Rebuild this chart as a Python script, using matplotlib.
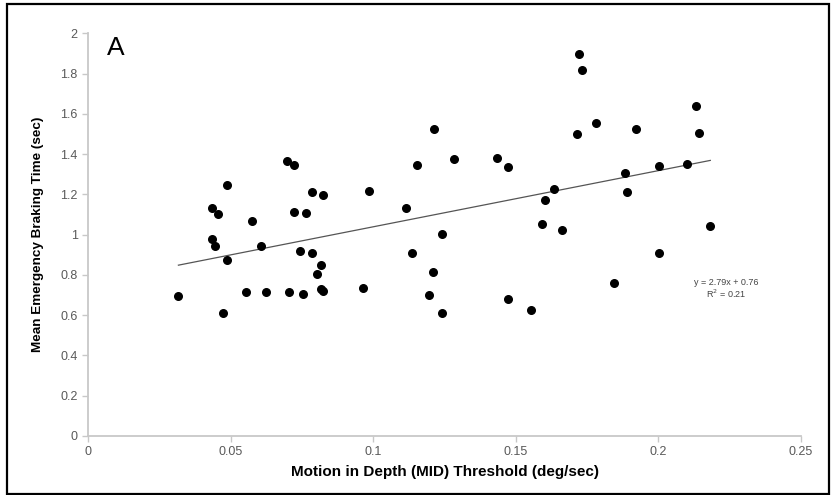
import matplotlib.pyplot as plt
from matplotlib.patches import Rectangle
import numpy as np

plt.rcParams['font.family'] = ['Liberation Sans', 'DejaVu Sans']

# MID threshold (deg/sec) and mean emergency braking time (sec) per driver
mid_threshold = [
    0.0317, 0.0445, 0.0436, 0.0486, 0.0475, 0.0607, 0.0554, 0.0623, 0.0704,
    0.0755, 0.0743, 0.0784, 0.0816, 0.0804, 0.0816, 0.0825, 0.0965, 0.1135,
    0.0697, 0.0722, 0.0486, 0.0436, 0.0455, 0.0576, 0.0784, 0.0823, 0.0723,
    0.0764, 0.0984, 0.1114, 0.1152,
    0.1723, 0.1731, 0.1214, 0.1283, 0.1433, 0.1472, 0.1713, 0.1782, 0.1923,
    0.2133, 0.2141, 0.2100, 0.2001, 0.1883, 0.1890, 0.1633, 0.1601, 0.1593,
    0.1662, 0.2182, 0.1242,
    0.1211, 0.1195, 0.1242, 0.1472, 0.1553, 0.1843, 0.2001,
]
braking_time = [
    0.695, 0.944, 0.977, 0.874, 0.613, 0.945, 0.715, 0.715, 0.715,
    0.707, 0.920, 0.907, 0.849, 0.805, 0.728, 0.722, 0.735, 0.907,
    1.366, 1.347, 1.248, 1.131, 1.103, 1.066, 1.210, 1.199, 1.112,
    1.106, 1.218, 1.131, 1.346,
    1.899, 1.818, 1.526, 1.374, 1.382, 1.334, 1.500, 1.555, 1.525,
    1.639, 1.503, 1.352, 1.341, 1.306, 1.210, 1.227, 1.172, 1.051,
    1.023, 1.041, 1.005,
    0.813, 0.699, 0.611, 0.679, 0.627, 0.762, 0.910,
]

# linear fit as reported
slope = 2.79
intercept = 0.76
r_squared = 0.21

x_ticks = [0, 0.05, 0.1, 0.15, 0.2, 0.25]
x_tick_labels = ['0', '0.05', '0.1', '0.15', '0.2', '0.25']
y_ticks = [0, 0.2, 0.4, 0.6, 0.8, 1.0, 1.2, 1.4, 1.6, 1.8, 2.0]
y_tick_labels = ['0', '0.2', '0.4', '0.6', '0.8', '1', '1.2', '1.4', '1.6', '1.8', '2']

fig = plt.figure(figsize=(8.31, 4.95), dpi=100)
ax = fig.add_axes([0.1059, 0.1192, 0.858, 0.8135])

ax.scatter(mid_threshold, braking_time, s=30, color='black', zorder=3)

fit_x = np.array([min(mid_threshold), max(mid_threshold)])
ax.plot(fit_x, slope * fit_x + intercept, color='#555555', linewidth=0.9, zorder=2)

ax.set_xlim(0, 0.25)
ax.set_ylim(0, 2)
ax.set_xticks(x_ticks)
ax.set_xticklabels(x_tick_labels)
ax.set_yticks(y_ticks)
ax.set_yticklabels(y_tick_labels)

for side in ['top', 'right']:
    ax.spines[side].set_visible(False)
for side in ['left', 'bottom']:
    ax.spines[side].set_color('#c8c8c8')
    ax.spines[side].set_linewidth(1.3)
ax.tick_params(colors='#c8c8c8', labelcolor='#595959', labelsize=9,
               length=4, width=1, direction='out')

ax.set_xlabel('Motion in Depth (MID) Threshold (deg/sec)', fontsize=11,
              fontweight='bold', labelpad=5)
ax.set_ylabel('Mean Emergency Braking Time (sec)', fontsize=9.7,
              fontweight='bold', labelpad=12)

ax.text(0.0098, 1.927, 'A', fontsize=19, ha='center', va='center')

ax.text(0.2237, 0.76, f'y = {slope}x + {intercept}', fontsize=6.5,
        color='#444444', ha='center', va='center')
ax.text(0.2237, 0.705, f'R$^2$ = {r_squared}', fontsize=6.5,
        color='#444444', ha='center', va='center')

# black frame round the whole figure
fig.patches.append(Rectangle((7 / 831, 1.5 / 495), 822 / 831, 490 / 495,
                             transform=fig.transFigure, fill=False,
                             edgecolor='black', linewidth=1.6))

fig.savefig('out.png', dpi=100)
